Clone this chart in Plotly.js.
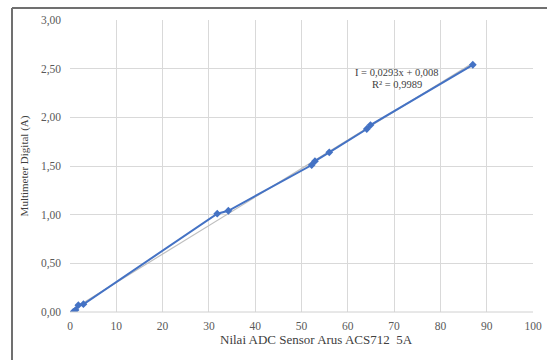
<!DOCTYPE html>
<html>
<head>
<meta charset="utf-8">
<script src="https://cdn.plot.ly/plotly-3.0.1.min.js"></script>
<style>html,body{margin:0;padding:0;background:#fff;}#chart{width:547px;height:360px;}</style>
</head>
<body>
<div id="chart"></div>
<script>
var adcValues = [0.7, 1.2, 1.8, 2.9, 31.8, 34.2, 52.2, 52.9, 56.0, 64.1, 64.9, 87.0];
var currentValues = [0.00, 0.02, 0.07, 0.08, 1.01, 1.04, 1.51, 1.55, 1.64, 1.88, 1.92, 2.54];
var trendX = [0.7, 87.0];
var trendY = [0.03, 2.557];
var equationLines = ["I = 0,0293x + 0,008", "R² = 0,9989"];
var xTitle = "Nilai ADC Sensor Arus ACS712  5A";
var yTitle = "Multimeter Digital (A)";

var font = "Liberation Serif";
var blue = "#4472C4";

var traces = [
  {x: trendX, y: trendY, mode: "lines", type: "scatter",
   line: {color: "#bfbfbf", width: 1.2}, hoverinfo: "skip"},
  {x: adcValues, y: currentValues, mode: "lines+markers", type: "scatter",
   line: {color: blue, width: 2}, marker: {symbol: "diamond", size: 6, color: blue}}
];

var L = 70, R = 533, T = 20, B = 312;
function px(p){ return (p - L) / (R - L); }
function py(p){ return (B - p) / (B - T); }

var layout = {
  width: 547, height: 360,
  margin: {l: L, r: 547 - R, t: T, b: 360 - B},
  paper_bgcolor: "#fff", plot_bgcolor: "#fff",
  showlegend: false,
  separators: ",.",
  font: {family: font, color: "#595959", size: 11},
  xaxis: {range: [0, 100], dtick: 10, tick0: 0, showgrid: true, gridcolor: "#d9d9d9", gridwidth: 1,
          zeroline: false, showline: false, ticks: "", ticklabelstandoff: 5,
          tickfont: {family: font, size: 11.5, color: "#595959"},
          fixedrange: true},
  yaxis: {range: [0, 3], dtick: 0.5, tick0: 0, tickformat: ".2f", showgrid: true, gridcolor: "#d9d9d9", gridwidth: 1,
          zeroline: false, showline: false, ticks: "", ticklabelstandoff: 8,
          tickfont: {family: font, size: 11.5, color: "#595959"},
          title: {text: yTitle, font: {family: font, size: 11, color: "#404040"}, standoff: 10},
          fixedrange: true},
  shapes: [
    {type: "line", xref: "paper", yref: "paper", x0: px(12), x1: px(12), y0: py(362), y1: py(8),
     line: {color: "#707070", width: 2}},
    {type: "line", xref: "paper", yref: "paper", x0: px(12), x1: px(549), y0: py(8), y1: py(8),
     line: {color: "#707070", width: 2}},
    {type: "line", xref: "paper", yref: "paper", x0: 0, x1: 1, y0: 0, y1: 0,
     line: {color: "#d0d0d0", width: 1}}
  ],
  annotations: [
    {xref: "paper", yref: "paper", x: px(397), y: py(72), text: equationLines[0], showarrow: false,
     font: {family: font, size: 10.5, color: "#404040"}, xanchor: "center", yanchor: "middle"},
    {xref: "paper", yref: "paper", x: px(397), y: py(84), text: equationLines[1], showarrow: false,
     font: {family: font, size: 10.5, color: "#404040"}, xanchor: "center", yanchor: "middle"},
    {xref: "paper", yref: "paper", x: px(316), y: py(339), text: xTitle, showarrow: false,
     font: {family: font, size: 13, color: "#404040"}, xanchor: "center", yanchor: "middle"}
  ]
};

Plotly.newPlot("chart", traces, layout, {displayModeBar: false, staticPlot: true});
</script>
</body>
</html>
